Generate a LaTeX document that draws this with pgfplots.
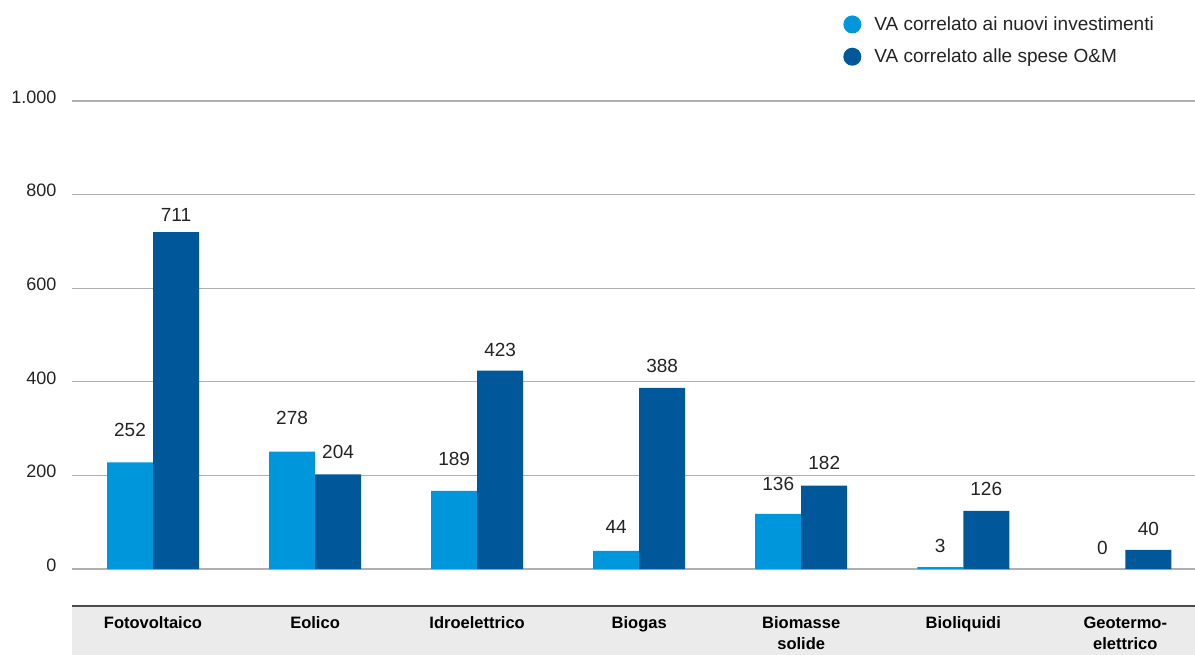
\documentclass[border=0pt]{standalone}
\usepackage{fontspec}
\setmainfont{Liberation Sans}
\usepackage{pgfplots}
\pgfplotsset{compat=1.18}
\definecolor{lightblue}{RGB}{0,150,219}
\definecolor{darkblue}{RGB}{0,88,155}
\definecolor{gridgray}{RGB}{175,175,175}
\definecolor{bandgray}{RGB}{235,235,235}
\definecolor{labelgray}{RGB}{35,35,35}

\begin{document}
\begin{tikzpicture}[x=1pt,y=1pt]
\path[use as bounding box] (0,0) rectangle (1195,655);
\fill[bandgray] (72,0) rectangle (1195,49);
\begin{axis}[
  at={(72pt,49pt)}, anchor=south west,
  scale only axis, width=1123pt, height=505pt,
  xmin=-0.5, xmax=6.43, ymin=-79, ymax=1000,
  ybar, bar width=46pt,
  axis x line*=bottom, axis y line*=left,
  x axis line style={draw=black!70, line width=1.6pt, -},
  y axis line style={draw=none, -},
  major tick length=0pt,
  xtick={0,...,6},
  xticklabels={Fotovoltaico, Eolico, Idroelettrico, Biogas, {Biomasse\\solide}, Bioliquidi, {Geotermo-\\elettrico}},
  xticklabel style={font=\fontsize{16.5}{21}\selectfont\bfseries, align=center, text=black, yshift=-7pt},
  ytick={0,200,400,600,800,1000},
  yticklabels={0,200,400,600,800,1.000},
  yticklabel style={font=\fontsize{18}{20}\selectfont, text=labelgray, xshift=-12pt, yshift=4pt},
  ymajorgrids, grid style={gridgray, line width=1.3pt},
  legend style={at={(0.684,1.175)}, anchor=north west, draw=none, fill=none,
    font=\fontsize{19}{22}\selectfont, text=labelgray, row sep=13pt, legend cell align=left,
    /tikz/every odd column/.append style={column sep=11pt}},
  nodes near coords style={font=\fontsize{19}{22}\selectfont, text=labelgray, yshift=11pt},
]
% bars (drawn heights)
\addplot[fill=lightblue, draw=none, bar shift=-23pt,
  legend image code/.code={\fill[lightblue] (4pt,0pt) circle (9pt);}]
  coordinates {(0,228) (1,251) (2,167) (3,39) (4,118) (5,4) (6,0)};
\addlegendentry{VA correlato ai nuovi investimenti}
\addplot[fill=darkblue, draw=none, bar shift=23pt,
  legend image code/.code={\fill[darkblue] (4pt,0pt) circle (9pt);}]
  coordinates {(0,720) (1,202) (2,424) (3,387) (4,178) (5,124) (6,41)};
\addlegendentry{VA correlato alle spese O\&M}
% value labels
\addplot[draw=none, fill=none, bar shift=-23pt, forget plot,
  point meta=explicit symbolic, nodes near coords]
  coordinates {(0,252)[252] (1,278)[278] (2,189)[189] (3,44)[44] (4,136)[136] (5,3)[3] (6,0)[0]};
\addplot[draw=none, fill=none, bar shift=23pt, forget plot,
  point meta=explicit symbolic, nodes near coords]
  coordinates {(0,711)[711] (1,204)[204] (2,423)[423] (3,388)[388] (4,182)[182] (5,126)[126] (6,40)[40]};
\end{axis}
\end{tikzpicture}
\end{document}
